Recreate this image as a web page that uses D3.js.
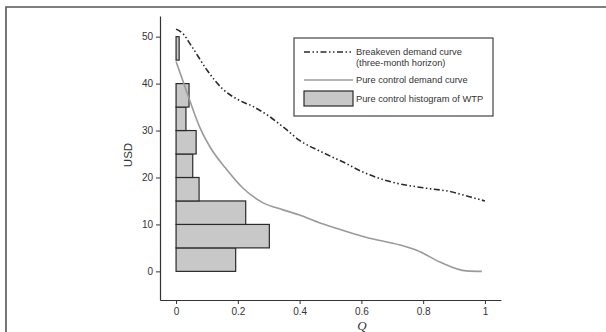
<!DOCTYPE html>
<html><head><meta charset="utf-8">
<script src="https://cdn.jsdelivr.net/npm/d3@7"></script>
<style>body{margin:0;background:#fff}svg{display:block}text{font-family:"Liberation Sans",Arial,sans-serif;fill:#333}</style>
</head><body><svg id="c" width="606" height="332"></svg>
<script>
// Histogram bins (USD lower edge, upper edge) and share of respondents
const binLow = [0, 5, 10, 15, 20, 25, 30, 35, 40, 45];
const binHigh = [5, 10, 15, 20, 25, 30, 35, 40, 45, 50];
const binShare = [0.193, 0.302, 0.2255, 0.0745, 0.054, 0.065, 0.032, 0.042, 0, 0.01];
// Breakeven demand curve (three-month horizon)
const beQ = [0, 0.02, 0.05, 0.1, 0.15, 0.2, 0.25, 0.3, 0.35, 0.4, 0.466, 0.55, 0.6, 0.65, 0.7, 0.8, 0.887, 0.95, 1.0];
const beV = [51.6, 50.8, 48, 42.9, 38.9, 36.6, 35.1, 33.1, 30.6, 27.9, 25.6, 23.0, 21.3, 20.0, 19.0, 17.8, 17.0, 15.9, 15.0];
// Pure control demand curve
const pcQ = [0, 0.02, 0.04, 0.078, 0.11, 0.16, 0.217, 0.282, 0.347, 0.4, 0.466, 0.508, 0.617, 0.725, 0.779, 0.854, 0.94, 0.99];
const pcV = [44.7, 41, 37.2, 30.5, 26.5, 22.0, 17.7, 14.6, 13.1, 12, 10.3, 9.4, 7.2, 5.6, 4.5, 2.0, 0.1, 0];
const xTicks = [0, 0.2, 0.4, 0.6, 0.8, 1];
const xTickLabels = ["0", "0.2", "0.4", "0.6", "0.8", "1"];
const yTicks = [0, 10, 20, 30, 40, 50];
const legendLabels = [["Breakeven demand curve", "(three-month horizon)"], ["Pure control demand curve"], ["Pure control histogram of WTP"]];

const svg = d3.select("#c");
const x = d3.scaleLinear().domain([-0.052, 1.052]).range([160, 501]);
const y = d3.scaleLinear().domain([-6.1, 54.4]).range([300, 16]);

// outer frame
svg.append("path").attr("d", "M6,340V7H620").attr("fill", "none").attr("stroke", "#555").attr("stroke-width", 1.6);

// histogram
svg.append("g").selectAll("rect").data(binShare.map((s, i) => ({s, lo: binLow[i], hi: binHigh[i]})).filter(d => d.s > 0))
  .join("rect")
  .attr("x", x(0)).attr("width", d => x(d.s) - x(0))
  .attr("y", d => y(d.hi)).attr("height", d => y(d.lo) - y(d.hi))
  .attr("fill", "#c8c8c8").attr("stroke", "#2a2a2a").attr("stroke-width", 1.2);

// curves
const line = d3.line().x(d => x(d[0])).y(d => y(d[1])).curve(d3.curveMonotoneX);
svg.append("path").attr("d", line(pcQ.map((q, i) => [q, pcV[i]])))
  .attr("fill", "none").attr("stroke", "#9a9a9a").attr("stroke-width", 1.6);
svg.append("path").attr("d", line(beQ.map((q, i) => [q, beV[i]])))
  .attr("fill", "none").attr("stroke", "#2a2a2a").attr("stroke-width", 1.6)
  .attr("stroke-dasharray", "6,2.5,1.5,2.5,1.5,2.5");

// axes
const xa = svg.append("g").attr("transform", "translate(0,300)")
  .call(d3.axisBottom(x).tickValues(xTicks).tickFormat((d, i) => xTickLabels[i]).tickSize(4).tickSizeOuter(0).tickPadding(4));
const ya = svg.append("g").attr("transform", "translate(160,0)")
  .call(d3.axisLeft(y).tickValues(yTicks).tickSize(4).tickSizeOuter(0).tickPadding(3));
[xa, ya].forEach(a => {
  a.select(".domain").attr("stroke", "#333").attr("stroke-width", 1.2);
  a.selectAll(".tick line").attr("stroke", "#333");
  a.selectAll("text").style("font-size", "10px").attr("fill", "#333").style("font-family", '"Liberation Sans",Arial,sans-serif');
});

svg.append("text").attr("x", 362).attr("y", 330).attr("text-anchor", "middle")
  .style("font-family", '"Liberation Serif","Times New Roman",serif').style("font-style", "italic").style("font-size", "13px").text("Q");
svg.append("text").attr("transform", "translate(132,155) rotate(-90)").attr("text-anchor", "middle")
  .style("font-size", "11.5px").text("USD");

// legend
const lg = svg.append("g");
lg.append("rect").attr("x", 294).attr("y", 38).attr("width", 199).attr("height", 78)
  .attr("fill", "#fff").attr("stroke", "#444").attr("stroke-width", 1.2);
lg.append("line").attr("x1", 304).attr("x2", 353).attr("y1", 52).attr("y2", 52)
  .attr("stroke", "#2a2a2a").attr("stroke-width", 1.6).attr("stroke-dasharray", "6,2.5,1.5,2.5,1.5,2.5");
lg.append("line").attr("x1", 304).attr("x2", 353).attr("y1", 80).attr("y2", 80)
  .attr("stroke", "#9a9a9a").attr("stroke-width", 1.6);
lg.append("rect").attr("x", 304).attr("y", 91).attr("width", 49).attr("height", 15)
  .attr("fill", "#c8c8c8").attr("stroke", "#2a2a2a").attr("stroke-width", 1.2);
const ly = [[55, 66], [83], [102]];
legendLabels.forEach((ls, i) => ls.forEach((t, j) => {
  lg.append("text").attr("x", 356).attr("y", ly[i][j]).style("font-size", "9.3px").text(t);
}));
</script></body></html>
